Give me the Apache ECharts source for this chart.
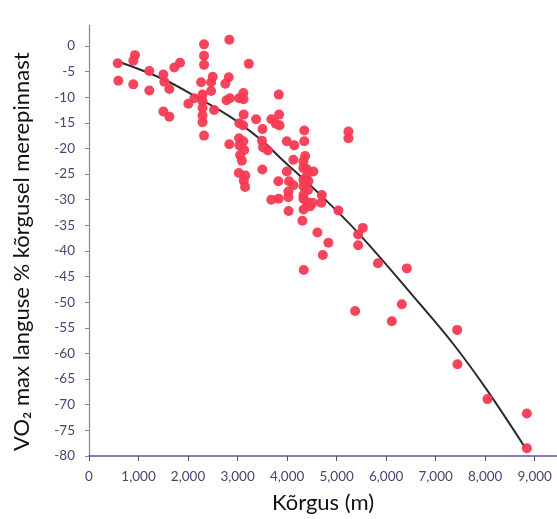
<!DOCTYPE html>
<html>
<head>
<meta charset="utf-8">
<script src="https://cdn.jsdelivr.net/npm/echarts@6/dist/echarts.min.js"></script>
<style>
html,body{margin:0;padding:0;background:#fff;}
#chart{width:557px;height:519px;}
</style>
</head>
<body>
<div id="chart"></div>
<script>
// Altitude (m) of each observation
var altitudes = [580,592,929,895,895,1218,1218,1501,1521,1622,1501,1622,1723,1838,2006,2127,
  2293,2293,2293,2293,2293,2323,2323,2323,2323,2263,2465,2499,2465,2525,2834,2822,2754,2778,2844,2834,
  3030,3117,3121,3228,3123,3036,3111,3030,3117,3036,3135,3051,3087,3026,3156,3125,3152,
  3374,3503,3493,3515,3612,3501,3683,3774,3832,3838,3848,3824,3681,3828,5238,5238,
  3994,4145,4347,4347,4127,4364,4329,4329,4394,4531,3994,4398,4040,4127,4026,4026,
  4329,4430,4329,4424,4329,4329,4404,4515,4465,4701,4691,4333,4030,4309,5036,4612,4834,4721,4337,
  5529,5434,5434,5834,6418,6317,5374,6115,7434,7440,8046,8842,8842];
// VO2 max decline (%) of each observation
var declines = [-3.4,-6.8,-1.8,-2.9,-7.5,-4.9,-8.7,-5.6,-7.0,-8.4,-12.8,-13.8,-4.2,-3.3,-11.3,-10.2,
  -9.5,-10.8,-12.1,-13.6,-14.9,-17.5,0.3,-1.9,-3.7,-7.1,-7.1,-6.0,-8.8,-12.5,1.2,-6.1,-7.4,-10.6,-10.2,-19.2,
  -10.2,-9.2,-10.4,-3.5,-13.4,-15.1,-15.5,-18.0,-18.6,-19.4,-20.3,-21.3,-22.4,-24.8,-25.3,-26.3,-27.5,
  -14.3,-16.2,-18.5,-19.8,-20.4,-24.1,-14.3,-15.2,-9.5,-13.4,-15.5,-26.4,-30.0,-29.8,-16.7,-18.0,
  -18.6,-19.4,-16.5,-18.6,-22.2,-21.5,-22.5,-23.8,-24.0,-24.5,-24.5,-25.4,-26.4,-27.2,-28.4,-29.5,
  -26.1,-26.4,-27.4,-28.1,-29.1,-29.8,-30.5,-30.6,-31.3,-29.1,-30.6,-31.9,-32.2,-34.1,-32.1,-36.4,-38.4,-40.8,-43.7,
  -35.5,-36.8,-38.9,-42.4,-43.4,-50.4,-51.7,-53.7,-55.4,-62.1,-68.9,-71.7,-78.5];
// Trend curve
var curveX = [600,1500,2176,2848,3521,3859,4632,5475,6687,7360,8034,8808];
var curveY = [-3.1,-6.5,-10.0,-13.8,-18.7,-21.8,-28.7,-36.9,-50.4,-58.2,-67.1,-78.4];
// Tick values
var xTicks = [0,1000,2000,3000,4000,5000,6000,7000,8000,9000];
var yTicks = [-80,-75,-70,-65,-60,-55,-50,-45,-40,-35,-30,-25,-20,-15,-10,-5,0];

var points = altitudes.map(function(a,i){return [a, declines[i]];});
var curve = curveX.map(function(a,i){return [a, curveY[i]];});

var labelColor = '#4d4270';
var font = 'Lato, "Noto Sans", sans-serif';

var chart = echarts.init(document.getElementById('chart'));
chart.setOption({
  animation: false,
  backgroundColor: '#fff',
  grid: {left: 89, right: 0, top: 25.4, bottom: 62, containLabel: false},
  xAxis: {
    type: 'value', min: 0, max: 9450,
    name: 'Kõrgus (m)', nameLocation: 'middle', nameGap: 36,
    nameTextStyle: {fontSize: 22, color: '#111', fontFamily: font},
    splitLine: {show: false},
    axisLine: {onZero: false, lineStyle: {color: '#6e4aa6', width: 1.5}},
    axisTick: {customValues: xTicks, length: 5, lineStyle: {color: '#555'}},
    axisLabel: {customValues: xTicks, margin: 14, fontSize: 13.5, color: labelColor, fontFamily: font,
      formatter: function(v){ return v === 0 ? '0' : v.toLocaleString('en-US'); }}
  },
  yAxis: {
    type: 'value', min: -80, max: 4,
    name: 'VO₂ max languse % kõrgusel merepinnast', nameLocation: 'middle', nameGap: 56, nameRotate: 90,
    nameTextStyle: {fontSize: 22, color: '#111', fontFamily: font, padding: [0, 22, 0, 0]},
    splitLine: {show: false},
    axisLine: {show: true, onZero: false, lineStyle: {color: '#8a7fb0', width: 1.2}},
    axisTick: {customValues: yTicks, length: 4, lineStyle: {color: '#8a7fb0'}},
    axisLabel: {customValues: yTicks, margin: 14, fontSize: 13.5, color: labelColor, fontFamily: font}
  },
  series: [
    {type: 'line', data: curve, smooth: 0.4, symbol: 'none', z: 1,
      lineStyle: {color: '#2b2b2b', width: 2}},
    {type: 'scatter', data: points, symbolSize: 10, z: 2,
      itemStyle: {color: '#f43a52', opacity: 0.95}}
  ]
});
</script>
</body>
</html>
